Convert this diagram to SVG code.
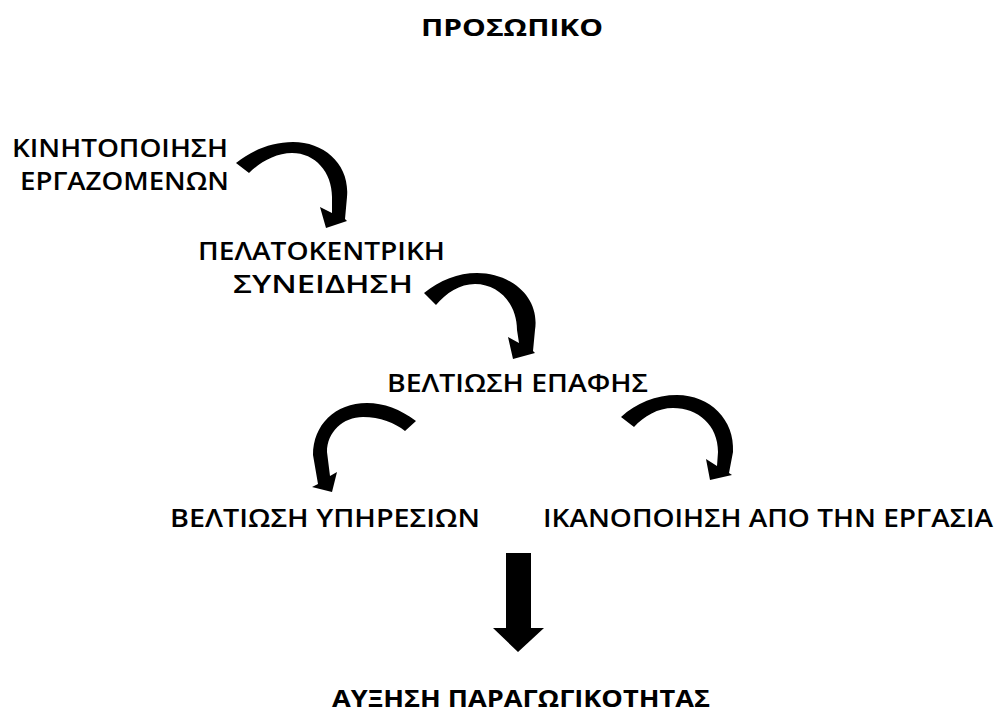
<svg xmlns="http://www.w3.org/2000/svg" width="998" height="714" viewBox="0 0 998 714">
<style>
.t{font-family:"Open Sans","Noto Sans","DejaVu Sans",sans-serif;font-size:26px;font-weight:600;fill:#000}
.b{font-family:"Open Sans","Noto Sans","DejaVu Sans",sans-serif;font-size:24px;font-weight:bold;fill:#000}
.a{fill:#000;stroke:none}
</style>
<rect width="998" height="714" fill="#fff"/>
<g id="title"><text class="b" x="421" y="36" textLength="182" lengthAdjust="spacingAndGlyphs">ΠΡΟΣΩΠΙΚΟ</text></g>
<g id="n1">
<text class="t" x="12" y="157" textLength="216" lengthAdjust="spacingAndGlyphs">ΚΙΝΗΤΟΠΟΙΗΣΗ</text>
<text class="t" x="20" y="190" textLength="209" lengthAdjust="spacingAndGlyphs">ΕΡΓΑΖΟΜΕΝΩΝ</text>
</g>
<g id="n2">
<text class="t" x="198" y="260" textLength="247" lengthAdjust="spacingAndGlyphs">ΠΕΛΑΤΟΚΕΝΤΡΙΚΗ</text>
<text class="t" x="233" y="293" textLength="180" lengthAdjust="spacingAndGlyphs">ΣΥΝΕΙΔΗΣΗ</text>
</g>
<g id="n3"><text class="t" x="387" y="392" textLength="261" lengthAdjust="spacingAndGlyphs">ΒΕΛΤΙΩΣΗ ΕΠΑΦΗΣ</text></g>
<g id="n4"><text class="t" x="170" y="527" textLength="310" lengthAdjust="spacingAndGlyphs">ΒΕΛΤΙΩΣΗ ΥΠΗΡΕΣΙΩΝ</text></g>
<g id="n5"><text class="t" x="543" y="527" textLength="450" lengthAdjust="spacingAndGlyphs">ΙΚΑΝΟΠΟΙΗΣΗ ΑΠΟ ΤΗΝ ΕΡΓΑΣΙΑ</text></g>
<g id="n6"><text class="b" x="332" y="707" font-size="23" textLength="378" lengthAdjust="spacingAndGlyphs">ΑΥΞΗΣΗ ΠΑΡΑΓΩΓΙΚΟΤΗΤΑΣ</text></g>
<g id="connectors">
<path class="a" d="M236,163 C252,150 272,142 293,142 C325,142 350,165 347,197 L345,219 L347,221 L326,228 L320,207 L332,213 L332,197 C332,172 315,153 292,153 C276,153 260,162 249,173 Z"/>
<path class="a" d="M424,293 C440,280 458,273 477,273 C512,273 540,298 535,330 L533,351 L535,353 L513,359 L508,337 L519,343 L517,330 C517,303 498,284 475,284 C460,284 446,293 436,305 Z"/>
<path class="a" d="M416,421 C400,409 384,403 367,403 C335,403 313,425 313,455 L318,484 L312,487 L332,492 L337,472 L330,476 L327,452 C327,432 343,417 363,417 C380,417 395,423 405,431 Z"/>
<path class="a" d="M621,417 C636,403 656,395 677,395 C710,395 735,420 733,452 L729,473 L732,475 L710,480 L706,459 L717,466 L718,452 C718,425 698,408 673,408 C658,408 644,416 634,427 Z"/>
<polygon class="a" points="506,553 531,553 531,628 544,628 518,652 493,628 506,628"/>
</g>
</svg>
